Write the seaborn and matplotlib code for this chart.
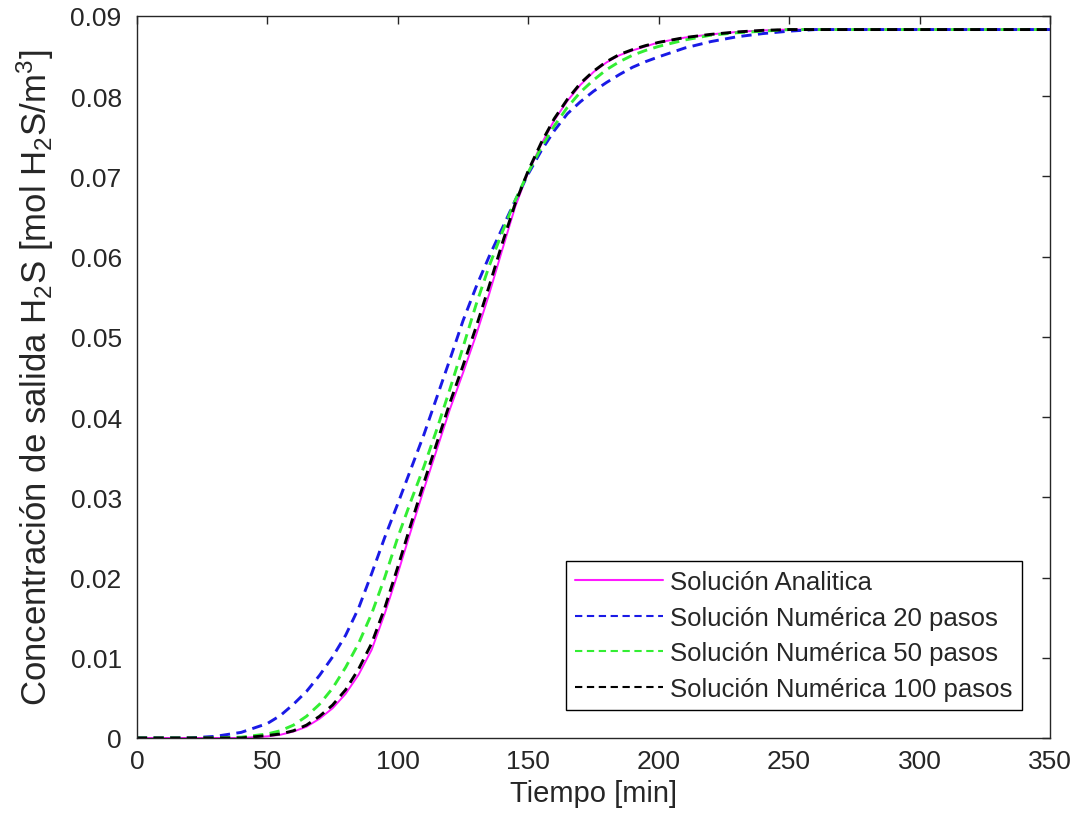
import numpy as np
import pandas as pd
import matplotlib
matplotlib.use("Agg")
import matplotlib.pyplot as plt
import seaborn as sns

# valores
tiempo = [0, 10, 20, 30, 40, 50, 55, 60, 65, 70, 75, 80, 85, 90, 95, 100,
          105, 110, 115, 120, 125, 130, 135, 140, 145, 150, 155, 160, 165,
          170, 175, 180, 185, 190, 195, 200, 210, 220, 230, 240, 250, 260,
          270, 280, 290, 300, 310, 320, 330, 340, 350]

analitica = [0, 0, 0, 0, 0.0000, 0.0002, 0.0004, 0.0008, 0.0014, 0.0024, 0.0037,
             0.0055, 0.0079, 0.0110, 0.0155, 0.0205, 0.0258, 0.0310, 0.0360,
             0.0410, 0.0455, 0.0502, 0.0553, 0.0608, 0.0662, 0.0705, 0.0740,
             0.0770, 0.0794, 0.0814, 0.0830, 0.0842, 0.0851, 0.0857, 0.0862,
             0.0867, 0.0873, 0.0877, 0.0880, 0.0882, 0.0883, 0.0883, 0.0883,
             0.0883, 0.0883, 0.0883, 0.0883, 0.0883, 0.0883, 0.0883, 0.0883]

num_20 = [0, 0, 0, 0.0002, 0.0007, 0.0018, 0.0028, 0.0042, 0.0058, 0.0078, 0.0101,
          0.0128, 0.0162, 0.0205, 0.0250, 0.0292, 0.0335, 0.0378, 0.0425,
          0.0472, 0.0520, 0.0562, 0.0600, 0.0635, 0.0670, 0.0703, 0.0732,
          0.0757, 0.0778, 0.0793, 0.0806, 0.0817, 0.0827, 0.0836, 0.0843,
          0.0849, 0.0860, 0.0868, 0.0874, 0.0878, 0.0881, 0.0883, 0.0883,
          0.0883, 0.0883, 0.0883, 0.0883, 0.0883, 0.0883, 0.0883, 0.0883]

num_50 = [0, 0, 0, 0, 0.0001, 0.0005, 0.0009, 0.0016, 0.0027, 0.0042, 0.0062,
          0.0088, 0.0118, 0.0155, 0.0200, 0.0250, 0.0295, 0.0338, 0.0385,
          0.0435, 0.0487, 0.0540, 0.0588, 0.0630, 0.0670, 0.0705, 0.0736,
          0.0763, 0.0786, 0.0805, 0.0820, 0.0833, 0.0843, 0.0851, 0.0857,
          0.0862, 0.0870, 0.0876, 0.0879, 0.0881, 0.0883, 0.0883, 0.0883,
          0.0883, 0.0883, 0.0883, 0.0883, 0.0883, 0.0883, 0.0883, 0.0883]

num_100 = [0, 0, 0, 0, 0.0000, 0.0003, 0.0005, 0.0009, 0.0016, 0.0027, 0.0041,
           0.0060, 0.0086, 0.0118, 0.0162, 0.0213, 0.0266, 0.0318, 0.0368,
           0.0418, 0.0464, 0.0512, 0.0563, 0.0616, 0.0666, 0.0707, 0.0742,
           0.0772, 0.0796, 0.0816, 0.0831, 0.0843, 0.0852, 0.0858, 0.0863,
           0.0867, 0.0873, 0.0877, 0.0880, 0.0882, 0.0883, 0.0883, 0.0883,
           0.0883, 0.0883, 0.0883, 0.0883, 0.0883, 0.0883, 0.0883, 0.0883]

etiquetas = ["Solución Analitica", "Solución Numérica 20 pasos",
             "Solución Numérica 50 pasos", "Solución Numérica 100 pasos"]
colores = ["#ff19ff", "#1a1ae6", "#33ee33", "#000000"]
estilos = ["-", "--", "--", "--"]

xticks = [0, 50, 100, 150, 200, 250, 300, 350]
yticks = [0, 0.01, 0.02, 0.03, 0.04, 0.05, 0.06, 0.07, 0.08, 0.09]
ytick_labels = ["0", "0.01", "0.02", "0.03", "0.04", "0.05", "0.06", "0.07", "0.08", "0.09"]

sns.set_theme(style="white")
plt.rcParams["font.family"] = ["Liberation Sans", "DejaVu Sans"]
plt.rcParams["mathtext.default"] = "regular"

fig = plt.figure(figsize=(10.78, 8.29), dpi=100)
ax = fig.add_axes([0.127, 0.1086, 0.847, 0.871])

series = [analitica, num_20, num_50, num_100]
for datos, lab, col, ls in zip(series, etiquetas, colores, estilos):
    lw = 1.4 if ls == "-" else 2.1
    sns.lineplot(x=tiempo, y=datos, ax=ax, color=col, linestyle=ls,
                 linewidth=lw, label=lab, dashes=False)
    if ls == "--":
        ax.lines[-1].set_dashes((3.5, 2.2))

ax.set_xlim(0, 350)
ax.set_ylim(0, 0.09)
ax.set_xticks(xticks)
ax.set_yticks(yticks, ytick_labels)

for s in ax.spines.values():
    s.set_color("#262626")
    s.set_linewidth(1.0)
ax.tick_params(direction="in", length=6, width=1, top=True, right=True,
               labelsize=19, colors="#262626")
ax.tick_params(axis="y", pad=11)
ax.tick_params(axis="x", pad=8)

ax.set_xlabel("Tiempo [min]", fontsize=21, color="#262626", labelpad=4)
ax.set_ylabel("Concentración de salida H$_2$S [mol H$_2$S/m$^3$]",
              fontsize=25, color="#262626", labelpad=10)

leg = ax.legend(loc="lower right", fontsize=18.5, frameon=True, fancybox=False,
                edgecolor="#000000", framealpha=1, handlelength=3.4,
                handletextpad=0.3, labelspacing=0.45, borderaxespad=1.1,
                borderpad=0.35)
leg.get_frame().set_linewidth(1.0)
for h in leg.get_lines():
    h.set_linewidth(1.5)

fig.savefig("out.png", dpi=100)
